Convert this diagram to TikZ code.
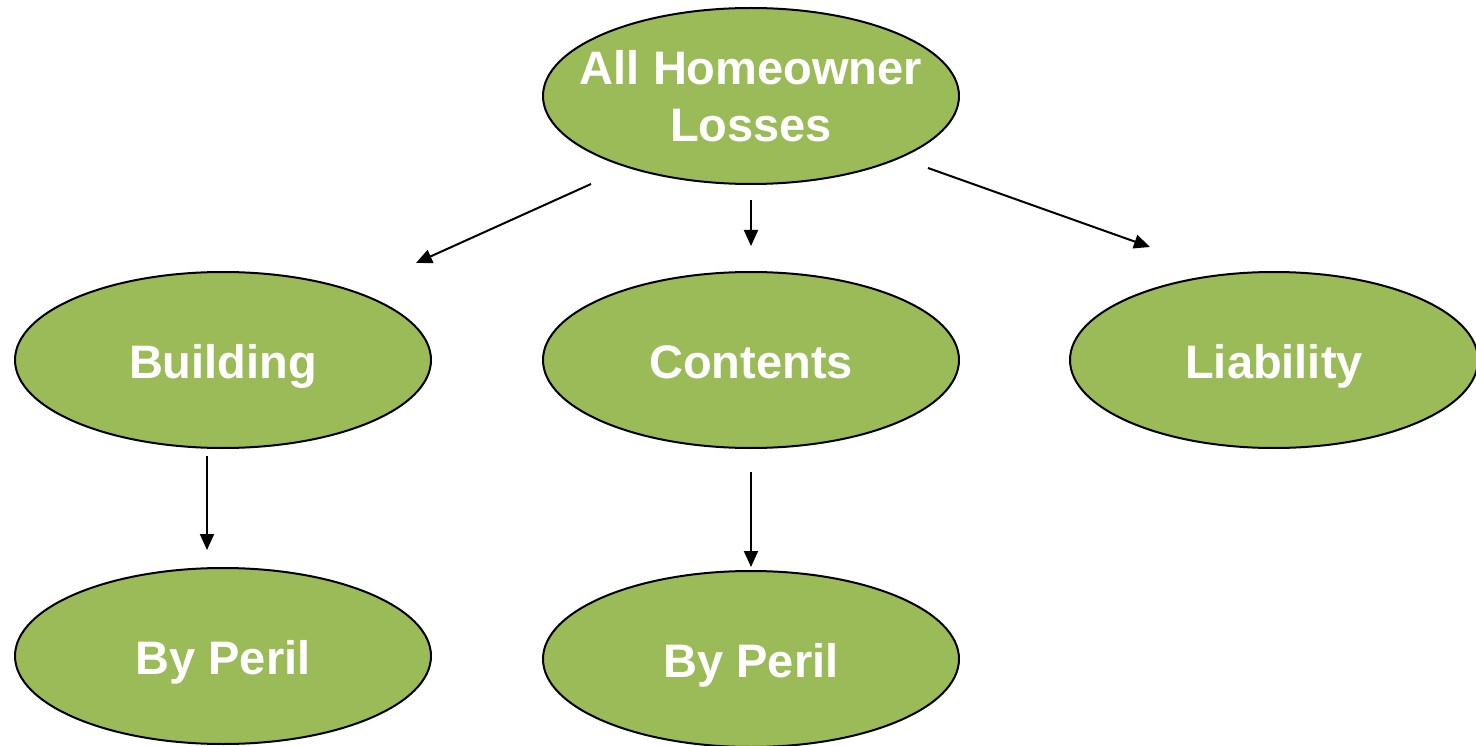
\documentclass[tikz,border=0pt]{standalone}
\usepackage{fontspec}
\setmainfont{Liberation Sans}
\usetikzlibrary{shapes.geometric,arrows.meta}
\definecolor{leaf}{HTML}{9BBB59}
\tikzset{
  oval/.style={ellipse, draw=black, line width=2pt, fill=leaf, inner sep=0pt,
    minimum width=416pt, minimum height=176pt, text=white,
    font=\fontsize{47pt}{57pt}\selectfont\bfseries, align=center},
  oneline/.style={oval, text height=42pt, text depth=6pt},
  link/.style={line width=2pt, -{Triangle[length=16pt,width=14pt]}}
}
\begin{document}
\begin{tikzpicture}[x=1pt,y=-1pt]
\useasboundingbox (0,0) rectangle (1476,746);
\node[oval] (top) at (751,96) {\makebox[0pt]{All Homeowner}\\\makebox[0pt]{Losses}};
\node[oneline] (bld) at (223,360) {Building};
\node[oneline] (cnt) at (751,360) {Contents};
\node[oneline, minimum width=408pt] (lia) at (1274,360) {Liability};
\node[oneline] (bp1) at (223,656) {By Peril};
\node[oneline] (bp2) at (751,659) {By Peril};
\coordinate (a1s) at (591,184); \coordinate (a1e) at (416,263);
\coordinate (a2s) at (751,200); \coordinate (a2e) at (751,246);
\coordinate (a3s) at (928,168); \coordinate (a3e) at (1150,247);
\coordinate (a4s) at (207,456); \coordinate (a4e) at (207,550);
\coordinate (a5s) at (751,472); \coordinate (a5e) at (751,567);
\draw[link] (a1s) -- (a1e);
\draw[link] (a2s) -- (a2e);
\draw[link] (a3s) -- (a3e);
\draw[link] (a4s) -- (a4e);
\draw[link] (a5s) -- (a5e);
\end{tikzpicture}
\end{document}
